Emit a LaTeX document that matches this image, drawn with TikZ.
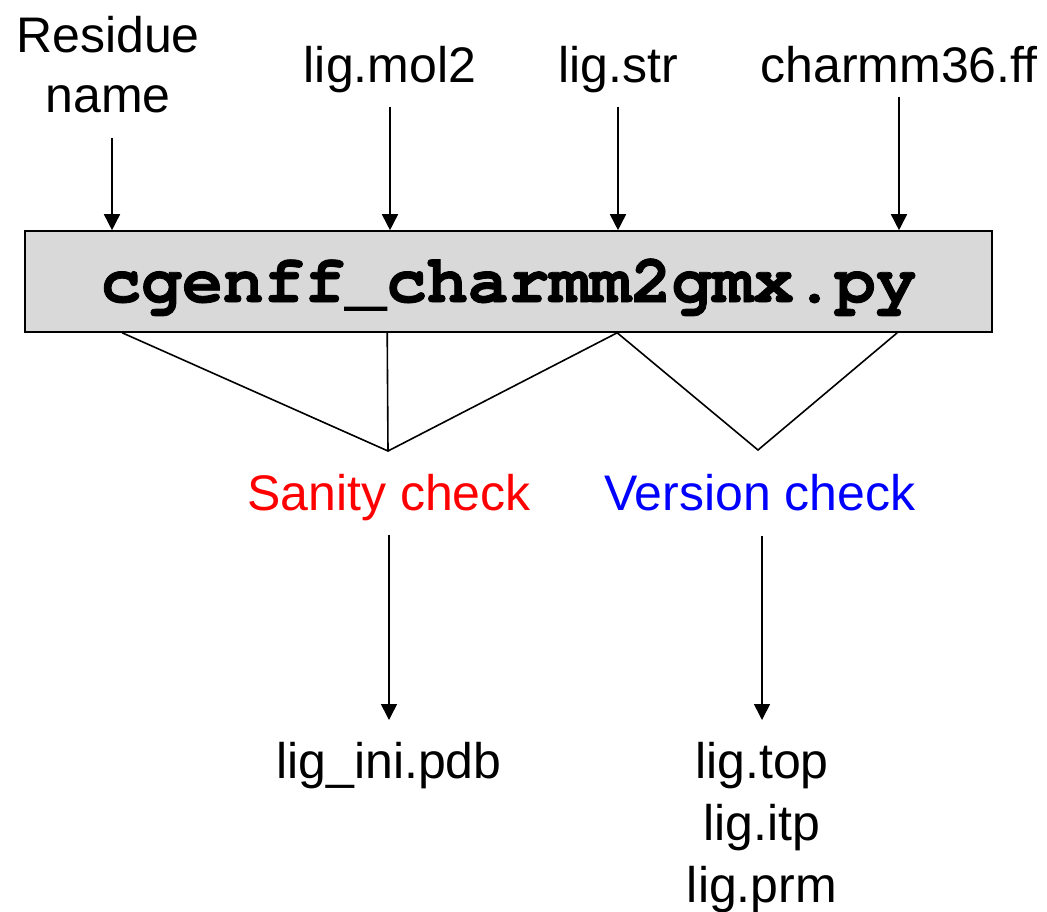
\documentclass[tikz,border=0pt]{standalone}
\usepackage{fontspec}
\setmainfont{Liberation Sans}
\newfontfamily\monob[Ligatures=NoCommon, BoldFeatures={FakeBold=1.2}]{TeX Gyre Cursor}
\usetikzlibrary{arrows.meta,calc}
\definecolor{boxgray}{HTML}{D9D9D9}
\definecolor{sanred}{HTML}{FF0000}
\definecolor{verblue}{HTML}{0000FF}
\begin{document}
\begin{tikzpicture}[x=1pt,y=-1pt,
  lbl/.style={inner sep=0pt, font=\fontsize{50}{60}\selectfont, align=center},
  outl/.style={inner sep=0pt, font=\fontsize{50}{62}\selectfont, align=center},
  arr/.style={line width=1.6pt, -{Triangle[width=16pt,length=16pt]}},
  ln/.style={line width=1.6pt},
  scriptbox/.style={draw, line width=1.6pt, fill=boxgray, minimum width=967pt, minimum height=101pt,
    inner sep=0pt, text height=51pt, text depth=10pt, font=\monob\bfseries\fontsize{68}{68}\selectfont},
]
\useasboundingbox (0,0) rectangle (1047,911);
% inputs
\node[lbl, anchor=north] (res) at (108,16) {Residue\\name};
\node[lbl, anchor=base] (mol2) at (390,82) {lig.mol2};
\node[lbl, anchor=base] (str) at (618,82) {lig.str};
\node[lbl, anchor=base] (ff) at (899,82) {charmm36.ff};
% script box
\node[scriptbox] (box) at (508.5,281.5) {cgenff\_charmm2gmx.py};
% input arrows
\coordinate (rx) at (112,0);
\draw[arr, shorten <=25pt] (res.south -| rx) -- (rx |- box.north);
\draw[arr, shorten <=14pt] (mol2.south) -- (mol2.south |- box.north);
\draw[arr, shorten <=14pt] (str.south) -- (str.south |- box.north);
\draw[arr, shorten <=14pt] (ff.south) -- (ff.south |- box.north);
% checks
\coordinate (b1) at ($(box.south west)+(98,0)$);
\coordinate (b2) at ($(box.south west)+(363,0)$);
\coordinate (b3) at ($(box.south west)+(593,0)$);
\coordinate (b4) at ($(box.south west)+(873,0)$);
\coordinate (sa) at (388,451);
\coordinate (va) at (758,450);
\draw[ln] (b1) -- (sa) -- (b3) -- (va) -- (b4);
\draw[ln] (b2) -- (sa);
\node[lbl, anchor=base, text=sanred] (san) at (389,510) {Sanity check};
\node[lbl, anchor=base, text=verblue] (ver) at (760,510) {Version check};
% outputs
\node[lbl, anchor=north] (ini) at (389,742) {lig\_ini.pdb};
\node[outl, anchor=north] (outs) at (762,742) {lig.top\\lig.itp\\lig.prm};
\draw[arr, shorten <=14pt, shorten >=22pt] (san.south) -- (san.south |- ini.north);
\draw[arr, shorten <=25pt, shorten >=22pt] (outs.north |- ver.south) -- (outs.north);
\end{tikzpicture}
\end{document}
